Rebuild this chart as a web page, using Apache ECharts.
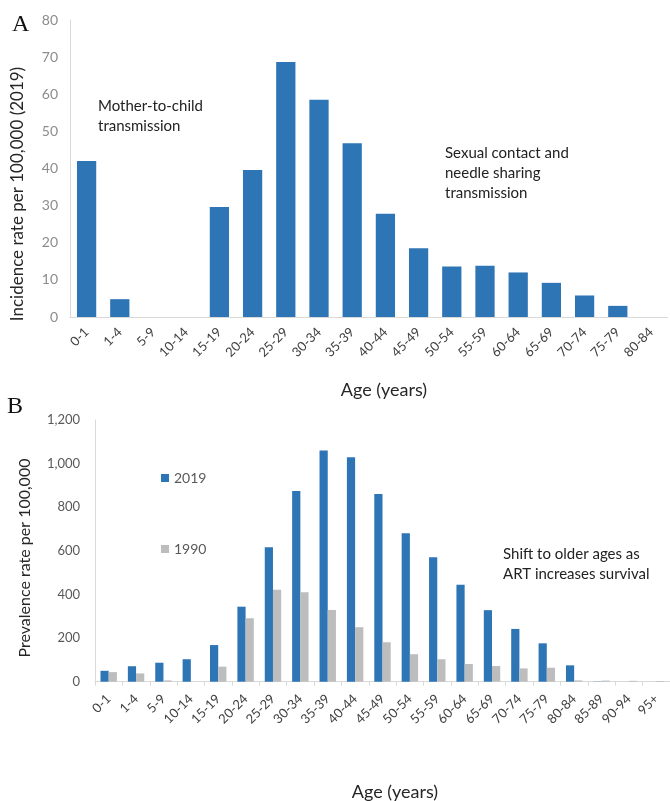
<!DOCTYPE html>
<html>
<head>
<meta charset="utf-8">
<script src="https://cdn.jsdelivr.net/npm/echarts@6/dist/echarts.min.js"></script>
<style>
html,body{margin:0;padding:0;background:#fff;}
#chart{width:670px;height:801px;}
</style>
</head>
<body>
<div id="chart"></div>
<script>
// ---- Data ----
const ageA = ['0-1','1-4','5-9','10-14','15-19','20-24','25-29','30-34','35-39','40-44','45-49','50-54','55-59','60-64','65-69','70-74','75-79','80-84'];
const incidence2019 = [42, 4.8, 0, 0, 29.6, 39.6, 68.7, 58.5, 46.8, 27.8, 18.5, 13.6, 13.8, 12, 9.2, 5.8, 3.0, 0];

const ageB = ['0-1','1-4','5-9','10-14','15-19','20-24','25-29','30-34','35-39','40-44','45-49','50-54','55-59','60-64','65-69','70-74','75-79','80-84','85-89','90-94','95+'];
const prev2019 = [50, 71, 87, 103, 168, 344, 616, 875, 1060, 1029, 861, 681, 571, 444, 328, 242, 176, 75, 1, 0, 0];
const prev1990 = [44, 38, 6, 0, 69, 291, 422, 410, 329, 250, 181, 126, 103, 81, 72, 61, 64, 6, 5, 4, 3];

const ticksA = {min: 0, max: 80, interval: 10};
const ticksB = {min: 0, max: 1200, interval: 200};

const FONT = 'Lato';
const BLUE = '#2E75B6';
const GRAY = '#BDBDBD';

const chart = echarts.init(document.getElementById('chart'), null, {renderer: 'canvas'});

const option = {
  backgroundColor: '#fff',
  animation: false,
  textStyle: {fontFamily: FONT},
  grid: [
    {left: 70, top: 20, width: 597.6, height: 297},
    {left: 95, top: 420, width: 583.8, height: 261.7}
  ],
  legend: {
    data: ['2019', '1990'],
    orient: 'vertical',
    left: 156,
    top: 466,
    itemWidth: 8,
    itemHeight: 8,
    itemGap: 57,
    itemTextGap: 4,
    icon: 'rect',
    textStyle: {fontFamily: FONT, fontSize: 14, color: '#595959'}
  },
  xAxis: [
    {
      type: 'category', gridIndex: 0, data: ageA,
      axisLine: {lineStyle: {color: '#D9D9D9', width: 1}},
      axisTick: {show: false},
      axisLabel: {rotate: 45, fontSize: 13, color: '#404040', margin: 13, interval: 0, fontFamily: FONT}
    },
    {
      type: 'category', gridIndex: 1, data: ageB,
      axisLine: {lineStyle: {color: '#D9D9D9', width: 1}},
      axisTick: {show: true, length: 4, lineStyle: {color: '#D9D9D9'}},
      axisLabel: {rotate: 45, fontSize: 13, color: '#404040', margin: 15, interval: 0, fontFamily: FONT}
    }
  ],
  yAxis: [
    {
      type: 'value', gridIndex: 0, min: ticksA.min, max: ticksA.max, interval: ticksA.interval,
      axisLine: {show: true, lineStyle: {color: '#D9D9D9'}},
      axisTick: {show: false},
      splitLine: {show: false},
      axisLabel: {fontSize: 14, color: '#8C8C8C', margin: 12, fontFamily: FONT}
    },
    {
      type: 'value', gridIndex: 1, min: ticksB.min, max: ticksB.max, interval: ticksB.interval,
      axisLine: {show: true, lineStyle: {color: '#D9D9D9'}},
      axisTick: {show: false},
      splitLine: {show: false},
      axisLabel: {
        fontSize: 13, color: '#595959', margin: 15, fontFamily: FONT,
        formatter: v => v.toLocaleString('en-US')
      }
    }
  ],
  series: [
    {
      type: 'bar', xAxisIndex: 0, yAxisIndex: 0, data: incidence2019,
      barWidth: '58%', itemStyle: {color: BLUE}
    },
    {
      name: '2019', type: 'bar', xAxisIndex: 1, yAxisIndex: 1, data: prev2019,
      barWidth: '30%', barGap: '0%', itemStyle: {color: BLUE}
    },
    {
      name: '1990', type: 'bar', xAxisIndex: 1, yAxisIndex: 1, data: prev1990,
      barWidth: '30%', barGap: '0%', itemStyle: {color: GRAY}
    }
  ],
  graphic: [
    {type: 'text', left: 12, top: 13, style: {text: 'A', font: '24px "Liberation Serif"', fill: '#111'}},
    {type: 'text', left: 7, top: 395, style: {text: 'B', font: '24px "Liberation Serif"', fill: '#111'}},
    {type: 'text', x: 18, y: 194, rotation: Math.PI / 2,
      style: {text: 'Incidence rate per 100,000 (2019)', font: '17px Lato', fill: '#262626', align: 'center', verticalAlign: 'middle'}},
    {type: 'text', x: 25, y: 558, rotation: Math.PI / 2,
      style: {text: 'Prevalence rate per 100,000', font: '16px Lato', fill: '#262626', align: 'center', verticalAlign: 'middle'}},
    {type: 'text', x: 384, y: 390,
      style: {text: 'Age (years)', font: '18px Lato', fill: '#262626', align: 'center', verticalAlign: 'middle'}},
    {type: 'text', x: 395, y: 792,
      style: {text: 'Age (years)', font: '18px Lato', fill: '#262626', align: 'center', verticalAlign: 'middle'}},
    {type: 'text', x: 98, y: 96,
      style: {text: 'Mother-to-child\ntransmission', font: '15px Lato', fill: '#222', lineHeight: 20}},
    {type: 'text', x: 445, y: 143,
      style: {text: 'Sexual contact and\nneedle sharing\ntransmission', font: '15px Lato', fill: '#222', lineHeight: 20}},
    {type: 'text', x: 503, y: 544,
      style: {text: 'Shift to older ages as\nART increases survival', font: '15px Lato', fill: '#222', lineHeight: 20}}
  ]
};
chart.setOption(option);
</script>
</body>
</html>
